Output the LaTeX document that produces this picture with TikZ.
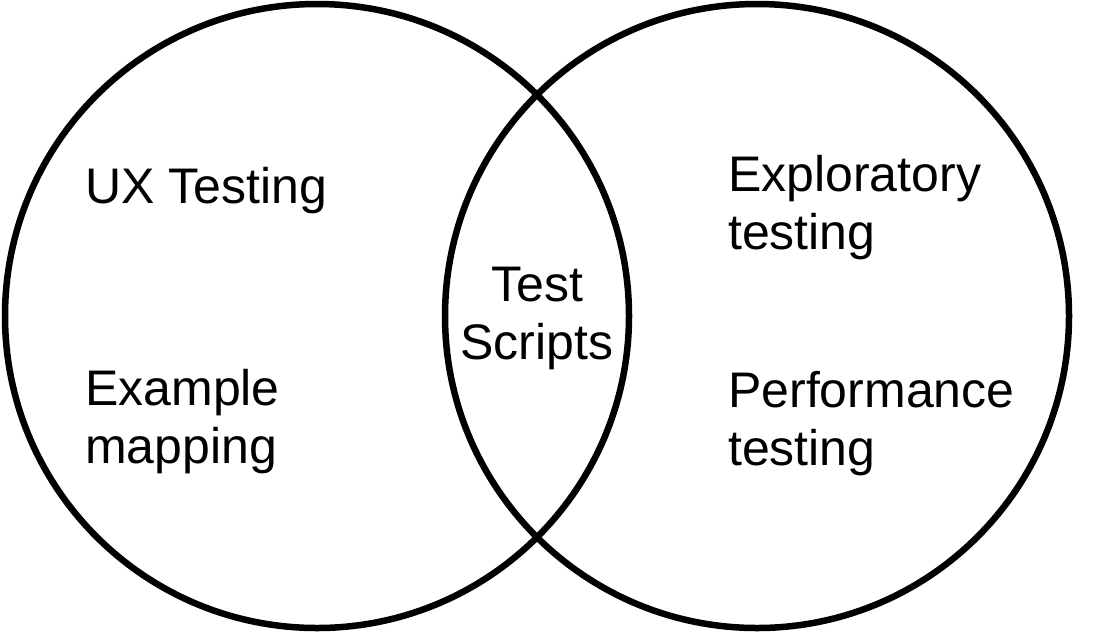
\documentclass[tikz,border=0pt]{standalone}
\usepackage{fontspec}
\setmainfont{Liberation Sans}
\usepackage{tikz}

\tikzset{
  ring/.style={line width=6.5pt},
  label/.style={inner sep=0pt,font=\fontsize{50}{58}\selectfont}
}

\begin{document}
\begin{tikzpicture}[x=1pt,y=-1pt]
  \useasboundingbox (0,0) rectangle (1100,633);
  \draw[ring] (317,316) circle[radius=312pt];
  \draw[ring] (757,316) circle[radius=312pt];
  % left side
  \node[label,anchor=west,align=left] (ux) at (85,191) {UX Testing};
  \node[label,anchor=west,align=left] (example) at (85,422) {Example\\mapping};
  % overlap
  \node[label,align=center] (scripts) at (537,318) {Test\\Scripts};
  % right side
  \node[label,anchor=west,align=left] (explore) at (728,208) {Exploratory\\testing};
  \node[label,anchor=west,align=left] (perf) at (728,424) {Performance\\testing};
\end{tikzpicture}
\end{document}
